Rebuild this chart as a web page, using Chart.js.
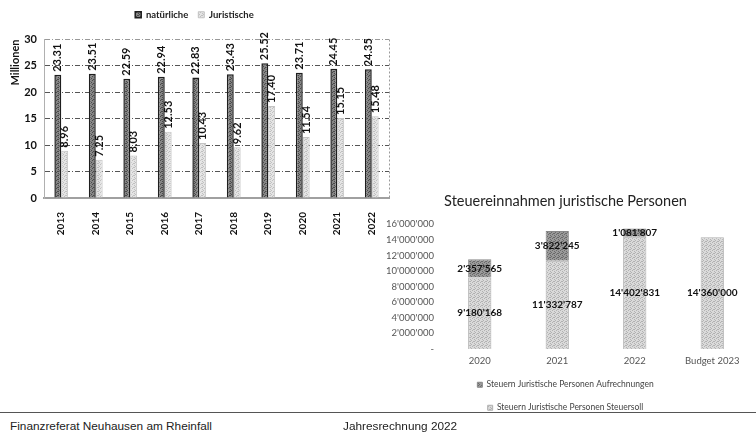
<!DOCTYPE html>
<html lang="de">
<head>
<meta charset="utf-8">
<title>Steuereinnahmen</title>
<script src="https://cdn.jsdelivr.net/npm/chart.js@4.4.1/dist/chart.umd.min.js"></script>
<style>
  html, body { margin: 0; padding: 0; background: #fff; }
  body { width: 756px; height: 435px; position: relative; overflow: hidden;
         font-family: "Liberation Sans", Arial, sans-serif; }
  #boxA { position: absolute; left: 0; top: 0; }
  #boxB { position: absolute; left: 380px; top: 190px; }
  .rule { position: absolute; left: 0; top: 412px; width: 756px; border-top: 1px solid #555; }
  .foot { position: absolute; top: 420px; font-size: 11.8px; line-height: 13px; color: #222; }
</style>
</head>
<body>
<canvas id="boxA" width="400" height="240"></canvas>
<canvas id="boxB" width="376" height="232"></canvas>
<div class="rule"></div>
<div class="foot" style="left:10px">Finanzreferat Neuhausen am Rheinfall</div>
<div class="foot" style="left:343px">Jahresrechnung 2022</div>

<script>
// Steuerertrag natürliche / juristische Personen, in Millionen Franken
const years = ['2013', '2014', '2015', '2016', '2017', '2018', '2019', '2020', '2021', '2022'];
const natuerliche = [23.31, 23.51, 22.59, 22.94, 22.83, 23.43, 25.52, 23.71, 24.45, 24.35];
const juristische = [8.96, 7.25, 8.03, 12.53, 10.43, 9.62, 17.40, 11.54, 15.15, 15.48];

// Steuereinnahmen juristische Personen, in Franken
const jpCategories = ['2020', '2021', '2022', 'Budget 2023'];
const jpSteuersoll = [9180168, 11332787, 14402831, 14360000];
const jpAufrechnungen = [2357565, 3822245, 1081807, null];

const swiss = v => Math.round(v).toString().replace(/\B(?=(\d{3})+(?!\d))/g, "'");

// small raster fill, like a printed screen
function stipple(base, dot) {
  const c = document.createElement('canvas');
  c.width = 4; c.height = 4;
  const g = c.getContext('2d');
  g.fillStyle = base; g.fillRect(0, 0, 4, 4);
  g.fillStyle = dot;
  [[0, 0], [2, 1], [1, 3], [3, 2], [2, 3]].forEach(([x, y]) => g.fillRect(x, y, 1, 1));
  return g.createPattern(c, 'repeat');
}

// value labels drawn on top of the bar elements
function valueLabels(cfg) {
  return {
    id: 'valueLabels',
    afterDatasetsDraw(chart) {
      const ctx = chart.ctx;
      chart.data.datasets.forEach((ds, di) => {
        const meta = chart.getDatasetMeta(di);
        if (meta.hidden) return;
        meta.data.forEach((bar, i) => {
          const v = ds.data[i];
          if (v == null) return;
          const p = bar.getProps(['x', 'y', 'base'], true);
          ctx.save();
          ctx.font = cfg.font;
          ctx.fillStyle = cfg.color;
          if (cfg.rotated) {
            ctx.translate(p.x, p.y - 3);
            ctx.rotate(-Math.PI / 2);
            ctx.textAlign = 'left';
            ctx.textBaseline = 'middle';
            ctx.fillText(cfg.format(v), 0, 0);
          } else {
            ctx.textAlign = 'center';
            ctx.textBaseline = 'middle';
            ctx.fillText(cfg.format(v), p.x, (p.y + p.base) / 2);
          }
          ctx.restore();
        });
      });
    }
  };
}

// extra room between the legend and the plot
const legendGap = {
  id: 'legendGap',
  afterInit(chart) {
    const lg = chart.legend;
    const fit = lg.fit;
    lg.fit = function () { fit.call(this); this.height += 10; };
  }
};

// dotted frame line on the right edge of the plot
const rightFrame = {
  id: 'rightFrame',
  beforeDatasetsDraw(chart) {
    const { ctx, chartArea: a } = chart;
    ctx.save();
    ctx.strokeStyle = '#999';
    ctx.lineWidth = 1;
    ctx.setLineDash([2, 2]);
    ctx.beginPath();
    ctx.moveTo(a.right + 0.5, a.top);
    ctx.lineTo(a.right + 0.5, a.bottom);
    ctx.stroke();
    ctx.restore();
  }
};

const boldFont = size => ({ family: 'Lato', size: size, weight: 'bold' });

new Chart(document.getElementById('boxA'), {
  type: 'bar',
  data: {
    labels: years,
    datasets: [
      { label: 'natürliche', data: natuerliche,
        backgroundColor: stipple('#858585', '#4a4a4a'), borderColor: '#1e1e1e', borderWidth: 1.5 },
      { label: 'Juristische', data: juristische,
        backgroundColor: stipple('#e4e4e4', '#c0c0c0'), borderColor: '#c4c4c4', borderWidth: 1 }
    ]
  },
  options: {
    responsive: false, animation: false, devicePixelRatio: 1,
    layout: { padding: { left: 0, right: 11, top: 0, bottom: 0 } },
    datasets: { bar: { categoryPercentage: 0.4, barPercentage: 1 } },
    plugins: {
      legend: { position: 'top',
        labels: { font: boldFont(9.5), color: '#222', boxWidth: 6, boxHeight: 6, padding: 10 } },
      tooltip: { enabled: false }
    },
    scales: {
      x: {
        grid: { display: false },
        border: { display: true, color: '#a0a0a0', width: 2 },
        ticks: { font: boldFont(10), color: '#111', minRotation: 90, maxRotation: 90, padding: 6 },
        afterFit(s) { s.height = 42; }
      },
      y: {
        min: 0, max: 30,
        ticks: { stepSize: 5, font: boldFont(11), color: '#111', padding: 7 },
        grid: { drawTicks: false, lineWidth: 1,
                color: c => c.tick.value === 0 ? 'rgba(0,0,0,0)' : (c.tick.value === 30 ? '#999' : '#555') },
        border: { display: true, color: '#b0b0b0', dash: [5, 2, 1, 2] },
        title: { display: true, text: 'Millionen', align: 'end', font: boldFont(11), color: '#111',
                 padding: { top: 9, bottom: 0 } },
        afterFit(s) { s.width = 44; }
      }
    }
  },
  plugins: [legendGap, rightFrame, valueLabels({ font: 'bold 11px Lato', color: '#111', rotated: true,
                                                  format: v => v.toFixed(2) })]
});

new Chart(document.getElementById('boxB'), {
  type: 'bar',
  data: {
    labels: jpCategories,
    datasets: [
      { label: 'Steuern Juristische Personen Steuersoll', data: jpSteuersoll,
        backgroundColor: stipple('#dadada', '#b2b2b2'), borderColor: '#b0b0b0', borderWidth: 1 },
      { label: 'Steuern Juristische Personen Aufrechnungen', data: jpAufrechnungen,
        backgroundColor: stipple('#9a9a9a', '#6a6a6a'), borderColor: '#888', borderWidth: 1 }
    ]
  },
  options: {
    responsive: false, animation: false, devicePixelRatio: 1,
    layout: { padding: { left: 0, right: 5, top: 0, bottom: 0 } },
    datasets: { bar: { categoryPercentage: 1, barPercentage: 0.3 } },
    plugins: {
      title: { display: true, text: 'Steuereinnahmen juristische Personen',
               font: { family: 'Lato', size: 14.5, weight: 'normal' }, color: '#222',
               padding: { top: 3, bottom: 14 } },
      legend: { position: 'bottom', reverse: true,
        labels: { font: { family: 'Lato', size: 8.5 }, color: '#444', boxWidth: 5, boxHeight: 5, padding: 14.5 } },
      tooltip: { enabled: false }
    },
    scales: {
      x: {
        stacked: true,
        grid: { display: false, drawTicks: false }, border: { display: false },
        ticks: { font: { family: 'Lato', size: 9.5, lineHeight: 1 }, color: '#555', padding: 7, maxRotation: 0 },
        afterFit(s) { s.height = 17; }
      },
      y: {
        stacked: true, min: 0, max: 16000000,
        grid: { display: false, drawTicks: false }, border: { display: false },
        ticks: { stepSize: 2000000, font: { family: 'Lato', size: 9.5 }, color: '#555', padding: 7,
                 callback: v => v === 0 ? '-' : swiss(v) },
        afterFit(s) { s.width = 61; }
      }
    }
  },
  plugins: [valueLabels({ font: 'bold 10px Lato', color: '#111', rotated: false, format: swiss })]
});
</script>
</body>
</html>
